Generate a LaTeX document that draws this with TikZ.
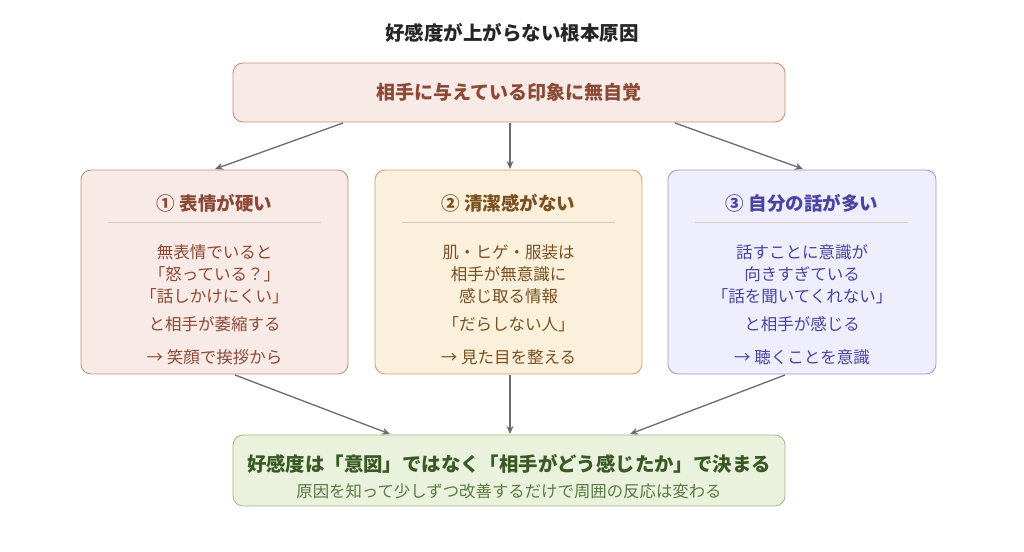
\documentclass[tikz,border=0pt]{standalone}
\usepackage{fontspec}
\setmainfont{Noto Sans CJK JP}
\usetikzlibrary{arrows.meta}
\definecolor{redfill}{HTML}{F8EAE6}
\definecolor{redline}{HTML}{C48A7A}
\definecolor{redtext}{HTML}{8B4A35}
\definecolor{yelfill}{HTML}{FAF0DC}
\definecolor{yelline}{HTML}{C9A36A}
\definecolor{yeltext}{HTML}{7A5020}
\definecolor{blufill}{HTML}{EEEEFC}
\definecolor{bluline}{HTML}{9A95D8}
\definecolor{blutext}{HTML}{4A45A0}
\definecolor{grnfill}{HTML}{EAF2DE}
\definecolor{grnline}{HTML}{9CBB80}
\definecolor{grntext}{HTML}{3A5A25}
\definecolor{grnsub}{HTML}{5A7A45}
\definecolor{sepline}{HTML}{D8C8C4}
\tikzset{
  box/.style={draw, rounded corners=10pt, line width=0.8pt},
  arr/.style={draw=black!58, line width=1.3pt, -{Stealth[length=8pt,width=7pt]}},
  head/.style={font=\fontsize{18.5}{20}\selectfont\bfseries},
  body/.style={font=\fontsize{16.5}{22}\selectfont}
}
\begin{document}
\begin{tikzpicture}[x=1pt,y=-1pt]
\useasboundingbox (0,0) rectangle (1024,551);

\node[font=\fontsize{19.5}{21}\selectfont\bfseries, text=black!85] (title) at (512,33) {好感度が上がらない根本原因};

% top
\draw[box, fill=redfill, draw=redline] (233,63) rectangle (785,122);
\node[head, font=\fontsize{19}{21}\selectfont\bfseries, text=redtext] (top) at (509,92.5) {相手に与えている印象に無自覚};

% three causes
\draw[box, fill=redfill, draw=redline] (81,170) rectangle (348,374);
\draw[box, fill=yelfill, draw=yelline] (375,170) rectangle (642,374);
\draw[box, fill=blufill, draw=bluline] (668,170) rectangle (936,374);
\foreach \x in {108,402,695} {
\draw[sepline, line width=0.8pt] (\x,222) -- (\x+213,222);
}

\node[head, text=redtext] (ha) at (214.5,203) {① 表情が硬い};
\node[body, text=redtext, align=center] (ba) at (214.5,274) {無表情でいると\\「怒っている？」\\「話しかけにくい」};
\node[body, text=redtext] (ca) at (214.5,324) {と相手が萎縮する};
\node[body, text=redtext] (da) at (214.5,357) {→ 笑顔で挨拶から};

\node[head, text=yeltext] (hb) at (508.5,203) {② 清潔感がない};
\node[body, text=yeltext, align=center] (bb) at (508.5,274) {肌・ヒゲ・服装は\\相手が無意識に\\感じ取る情報};
\node[body, text=yeltext] (cb) at (508.5,324) {「だらしない人」};
\node[body, text=yeltext] (db) at (508.5,357) {→ 見た目を整える};

\node[head, text=blutext] (hc) at (802,203) {③ 自分の話が多い};
\node[body, text=blutext, align=center] (bc) at (802,274) {話すことに意識が\\向きすぎている\\「話を聞いてくれない」};
\node[body, text=blutext] (cc) at (802,324) {と相手が感じる};
\node[body, text=blutext] (dc) at (802,357) {→ 聴くことを意識};

% bottom
\draw[box, fill=grnfill, draw=grnline] (233,435) rectangle (785,506);
\node[head, font=\fontsize{19.4}{21}\selectfont\bfseries, text=grntext] (res) at (509,464) {好感度は「意図」ではなく「相手がどう感じたか」で決まる};
\node[font=\fontsize{16.4}{18}\selectfont, text=grnsub] (sub) at (509,491) {原因を知って少しずつ改善するだけで周囲の反応は変わる};

\coordinate (t1) at (343,123); \coordinate (t2) at (510,123); \coordinate (t3) at (675,123);
\coordinate (a1) at (215,169); \coordinate (a2) at (510,169); \coordinate (a3) at (803,169);
\coordinate (b1) at (235,375); \coordinate (b2) at (510,375); \coordinate (b3) at (785,375);
\coordinate (r1) at (390,434); \coordinate (r2) at (510,434); \coordinate (r3) at (630,434);
\foreach \i in {1,2,3} {
\draw[arr] (t\i) -- (a\i);
\draw[arr] (b\i) -- (r\i);
}
\end{tikzpicture}
\end{document}
